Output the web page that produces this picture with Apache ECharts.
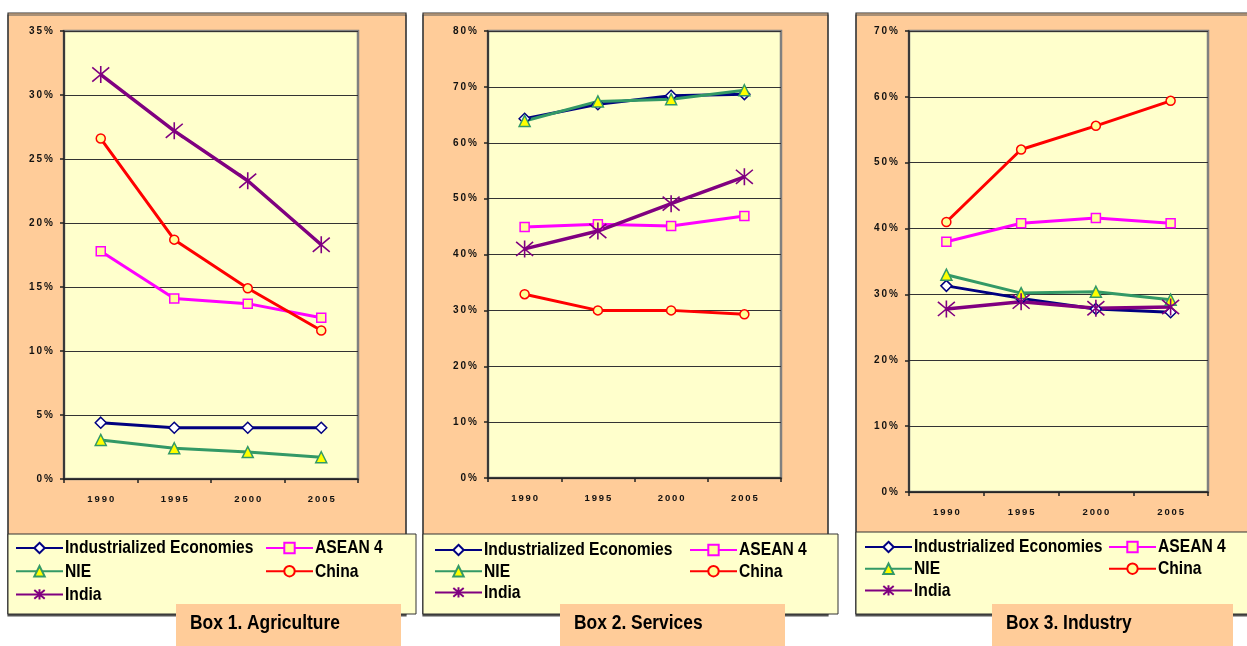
<!DOCTYPE html>
<html>
<head>
<meta charset="utf-8">
<script src="https://cdn.jsdelivr.net/npm/echarts@6/dist/echarts.min.js"></script>
<style>
  html, body { margin: 0; padding: 0; background: #ffffff; }
  #chart { width: 1247px; height: 646px; }
</style>
</head>
<body>
<div id="chart"></div>
<script>
// Share of GDP by sector (%), 1990-2005
const years = ['1990', '1995', '2000', '2005'];
const seriesNames = ['Industrialized Economies', 'ASEAN 4', 'NIE', 'China', 'India'];

// Box 1. Agriculture
const agriIE     = [4.4, 4.0, 4.0, 4.0];
const agriASEAN  = [17.8, 14.1, 13.7, 12.6];
const agriNIE    = [3.05, 2.4, 2.1, 1.7];
const agriChina  = [26.6, 18.7, 14.9, 11.6];
const agriIndia  = [31.6, 27.2, 23.3, 18.3];

// Box 2. Services
const servIE     = [64.3, 66.9, 68.4, 68.7];
const servASEAN  = [44.9, 45.4, 45.1, 46.9];
const servNIE    = [63.9, 67.4, 67.8, 69.4];
const servChina  = [32.9, 30.0, 30.0, 29.3];
const servIndia  = [41.0, 44.2, 49.1, 53.9];

// Box 3. Industry
const indIE      = [31.3, 29.4, 27.8, 27.3];
const indASEAN   = [38.0, 40.8, 41.6, 40.8];
const indNIE     = [33.0, 30.2, 30.4, 29.2];
const indChina   = [41.0, 52.0, 55.6, 59.4];
const indIndia   = [27.8, 28.9, 27.9, 28.1];

// y-axis ranges (percent)
const yMax = [35, 80, 70];
const yStep = [5, 10, 10];
const boxTitles = ['Box 1. Agriculture', 'Box 2. Services', 'Box 3. Industry'];

const panels = [
  [agriIE, agriASEAN, agriNIE, agriChina, agriIndia],
  [servIE, servASEAN, servNIE, servChina, servIndia],
  [indIE, indASEAN, indNIE, indChina, indIndia]
];

// ---- styling ----
const PEACH = '#FFCC99';
const CREAM = '#FFFFCC';
const sans = '"Liberation Sans", Arial, sans-serif';
const spaced = s => String(s).split('').join('\u2009');

const starPath = 'path://M0,0 L20,20 M20,0 L0,20 M10,-2 L10,22';
const styles = [
  { color: '#000080', symbol: 'diamond', size: 11, fill: '#FFFFFF', width: 3 },
  { color: '#FF00FF', symbol: 'rect', size: 9, fill: '#FFFF99', width: 3 },
  { color: '#339966', symbol: 'triangle', size: 11, fill: '#FFFF00', width: 3 },
  { color: '#FF0000', symbol: 'circle', size: 9, fill: '#FFFF99', width: 3 },
  { color: '#800080', symbol: starPath, size: 17, fill: '#800080', width: 3.5 }
];

// plot areas
const grids = [
  { left: 64, top: 31, width: 294, height: 448 },
  { left: 488, top: 31, width: 293, height: 447 },
  { left: 909, top: 31, width: 299, height: 461 }
];

const option = {
  animation: false,
  backgroundColor: '#FFFFFF',
  grid: grids.map(g => Object.assign({
    show: true, backgroundColor: CREAM, borderColor: '#808080', borderWidth: 2.5, containLabel: false
  }, g)),
  xAxis: grids.map((g, i) => ({
    type: 'category', gridIndex: i, data: years, boundaryGap: true,
    axisLine: { lineStyle: { color: '#222', width: 1.5 } },
    axisTick: { show: true, interval: 0, length: 4, lineStyle: { color: '#222', width: 1.5 } },
    axisLabel: {
      interval: 0, margin: 15, color: '#111', fontSize: 9.5, fontWeight: 'bold',
      fontFamily: sans, formatter: v => spaced(v)
    },
    splitLine: { show: false }
  })),
  yAxis: grids.map((g, i) => ({
    type: 'value', gridIndex: i, min: 0, max: yMax[i], interval: yStep[i],
    axisLine: { show: true, lineStyle: { color: '#222', width: 1.5 } },
    axisTick: { show: true, length: 4, lineStyle: { color: '#222', width: 1.5 } },
    axisLabel: {
      margin: 11, color: '#111', fontSize: 10, fontWeight: 'bold',
      fontFamily: sans, formatter: v => spaced(v + '%')
    },
    splitLine: { show: true, lineStyle: { color: '#333', width: 1 } }
  })),
  legend: [],
  series: [],
  graphic: []
};

panels.forEach((vals, p) => {
  vals.forEach((data, k) => {
    const st = styles[k];
    option.series.push({
      type: 'line', name: seriesNames[k], xAxisIndex: p, yAxisIndex: p,
      data: data, symbol: st.symbol, symbolSize: st.size, showSymbol: true,
      lineStyle: { color: st.color, width: st.width },
      itemStyle: { color: st.fill, borderColor: st.color, borderWidth: k === 4 ? 1.6 : 1.5 },
      emphasis: { disabled: true }
    });
  });
});

// legend placement for each panel: two columns, first row centre y, row step
const legendPos = [
  { a: 15, b: 265, y: 548, gap: 23.5 },
  { a: 434, b: 689, y: 550, gap: 21.5 },
  { a: 864, b: 1108, y: 547, gap: 22 }
];
const legendCols = [
  ['Industrialized Economies', 'NIE', 'India'],
  ['ASEAN 4', 'China']
];
const ICON_H = 13;
legendPos.forEach(lp => {
  legendCols.forEach((names, c) => {
    const left = c === 0 ? lp.a : lp.b;
    // icons come from the legend component; names are set as condensed text
    option.legend.push({
      orient: 'vertical', left: left, top: lp.y - ICON_H / 2, itemWidth: 47, itemHeight: ICON_H,
      itemGap: lp.gap - ICON_H, padding: 0, formatter: () => '', textStyle: { fontSize: 1 },
      data: names, selectedMode: false
    });
    names.forEach((nm, r) => {
      option.graphic.push({
        type: 'text', z: 30, x: left + 50, y: lp.y + r * lp.gap, scaleX: 0.845,
        style: { text: nm, fill: '#000', font: 'bold 18.5px ' + sans, textVerticalAlign: 'middle', verticalAlign: 'middle' }
      });
    });
  });
});

// panel frames, legend boxes and captions
const frames = [
  { x: 8, w: 398, lx: 8, lw: 408, ly: 534, tx: 176, tw: 225 },
  { x: 423, w: 405, lx: 423, lw: 415, ly: 534, tx: 560, tw: 225 },
  { x: 856, w: 400, lx: 856, lw: 400, ly: 532, tx: 992, tw: 241 }
];
frames.forEach((f, i) => {
  option.graphic.push({
    type: 'rect', z: -10, shape: { x: f.x, y: 13, width: f.w, height: 601 },
    style: { fill: PEACH, stroke: '#333', lineWidth: 1.2, shadowColor: '#555', shadowOffsetX: 0, shadowOffsetY: 2 }
  });
  option.graphic.push({
    type: 'rect', z: -5, shape: { x: f.lx, y: f.ly, width: f.lw, height: 614 - f.ly },
    style: { fill: CREAM, stroke: '#333', lineWidth: 1 }
  });
  option.graphic.push({
    type: 'rect', z: 20, shape: { x: f.tx, y: 604, width: f.tw, height: 42 },
    style: { fill: PEACH, stroke: null }
  });
  option.graphic.push({
    type: 'text', z: 21, x: f.tx + 14, y: 623, scaleX: 0.87,
    style: { text: boxTitles[i], fill: '#000', font: 'bold 20px ' + sans, textVerticalAlign: 'middle', verticalAlign: 'middle' }
  });
});

const chart = echarts.init(document.getElementById('chart'), null, { renderer: 'canvas' });
chart.setOption(option);
</script>
</body>
</html>
